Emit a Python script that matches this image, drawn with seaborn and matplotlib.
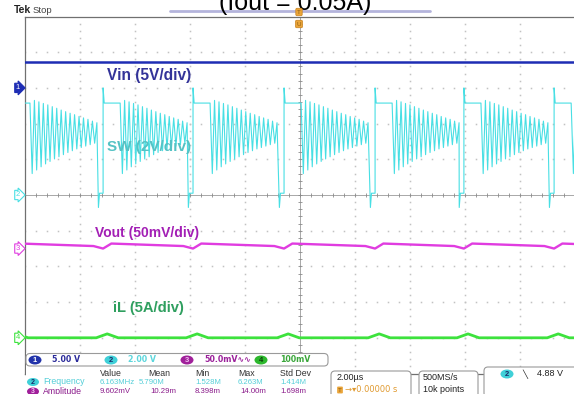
import numpy as np
import pandas as pd
import matplotlib.pyplot as plt
import matplotlib.transforms as mtransforms
from matplotlib.patches import FancyBboxPatch, Ellipse, Rectangle
import seaborn as sns

# channel setup: units per division and ground marker position (div)
canales = ["Vin", "SW", "Vout", "iL"]
escala = [5.0, 2.0, 0.05, 5.0]
tierra = [3.0, 0.0, -1.5, -4.0]
colores = ["#1e2db4", "#48dfe4", "#e03ce0", "#3de23d"]
etiquetas = ["Vin (5V/div)", "SW (2V/div)", "Vout (50mV/div)", "iL (5A/div)"]
color_etiq = ["#333399", "#55c2c4", "#a31fb5", "#2f9f5f"]
pos_etiq = [(-5.5, 3.36), (-5.5, 1.34), (-5.55, -1.06), (-5.5, -3.17)]  # (us, div)

# rising edges of the SW node (us)
rise_t = [-10.44, -7.16, -3.89, -0.58, 2.73, 5.96, 9.24, 12.5]

# Vin (V)
vin_level = 3.65

# SW node (V)
sw_low = 0.1
sw_spike = 6.0
sw_plateau = 5.15
sw_undershoot = -0.7
burst_start = 0.62  # us after the rising edge
ring_freq = 6.163   # MHz (measurement readout)
sw_peaks = [5.3, 5.22, 5.13, 5.05, 4.95, 4.86, 4.76, 4.67, 4.58, 4.5, 4.4, 4.32, 4.24, 4.14, 4.05]
sw_troughs = [1.2, 1.4, 1.58, 1.74, 1.88, 2.02, 2.14, 2.26, 2.38, 2.48, 2.58, 2.66, 2.74, 2.82, 2.9]

# Vout ripple (V): dip at the edge, jump up, slow decay
vout_dip, vout_high, vout_mid = 0.0, 0.007, 0.0035

# inductor current bump around each edge (A)
il_base = 0.0
il_bump_t = [-0.25, 0.15, 0.55]
il_bump_v = [0.0, 0.55, 0.0]

# measurement table
tabla_cols = ["Value", "Mean", "Min", "Max", "Std Dev"]
fila_freq = ["6.163MHz", "5.790M", "1.528M", "6.263M", "1.414M"]
fila_ampl = ["9.602mV", "10.29m", "8.398m", "14.00m", "1.698m"]

# ---- build traces
T = 1 / ring_freq
sw_t, sw_v = [], []
for t0, t1 in zip(rise_t[:-1], rise_t[1:]):
    sw_t += [t0, t0, t0 + 0.04, t0 + burst_start]
    sw_v += [sw_low, sw_spike, sw_plateau, sw_plateau]
    for k, (lo, hi) in enumerate(zip(sw_troughs, sw_peaks)):
        tb = t0 + burst_start + k * T
        sw_t += [tb + T / 2, tb + T]
        sw_v += [lo, hi]
    sw_t += [t1 - 0.17, t1 - 0.13, t1]
    sw_v += [sw_undershoot, sw_low, sw_low]

vo_t, vo_v = [], []
for t0, t1 in zip(rise_t[:-1], rise_t[1:]):
    vo_t += [t0, t0 + 0.3, t1 - 0.35]
    vo_v += [vout_dip, vout_high, vout_mid]
vo_t.append(rise_t[-1])
vo_v.append(vout_dip)

il_t, il_v = [rise_t[0] - 1], [il_base]
for t0 in rise_t:
    il_t += [t0 + s for s in il_bump_t]
    il_v += il_bump_v

vin_t, vin_v = [-10, 10], [vin_level, vin_level]

trazas = [(vin_t, vin_v), (sw_t, sw_v), (vo_t, vo_v), (il_t, il_v)]
anchos = [1.8, 0.8, 1.7, 2.0]

sns.set_style("white")
plt.rcParams["font.family"] = ["Liberation Sans", "DejaVu Sans"]

fig = plt.figure(figsize=(5.74, 3.94), dpi=100)
W, H = 574, 394
ax = fig.add_axes([25 / W, 1 - 373.5 / H, 550 / W, 357 / H])
ax.set_xlim(-10, 10)
ax.set_ylim(-5, 5)
ax.set_xticks([])
ax.set_yticks([])
for s in ax.spines.values():
    s.set_color("#707070")
    s.set_linewidth(0.9)

# graticule
for xd in [-4, -3, -2, -1, 1, 2, 3, 4]:
    yy = np.arange(-5, 5.01, 0.2)
    ax.plot(np.full_like(yy, 2 * xd), yy, ls="none", marker="s", ms=1.1, color="#c2c2c2", mec="none")
for yd in [-4, -3, -2, -1, 1, 2, 3, 4]:
    xx = np.arange(-10, 10.01, 0.4)
    ax.plot(xx, np.full_like(xx, yd), ls="none", marker="s", ms=1.1, color="#c2c2c2", mec="none")
ax.axhline(0, color="#9a9a9a", lw=0.6)
ax.axvline(0, color="#9a9a9a", lw=0.6)
ax.vlines(np.arange(-10, 10.01, 0.4), -0.07, 0.07, color="#8a8a8a", lw=0.6)
ax.hlines(np.arange(-5, 5.01, 0.2), -0.09, 0.09, color="#8a8a8a", lw=0.6)

for k, (tt, vv) in enumerate(trazas):
    df = pd.DataFrame({"t": tt, "div": np.array(vv) / escala[k] + tierra[k]})
    sns.lineplot(data=df, x="t", y="div", sort=False, estimator=None,
                 color=colores[k], lw=anchos[k], ax=ax, zorder=3)
ax.set_xlabel("")
ax.set_ylabel("")

for k in range(4):
    ax.text(pos_etiq[k][0], pos_etiq[k][1], etiquetas[k], color=color_etiq[k],
            fontsize=[11.2, 11.0, 10.0, 10.6][k], fontweight="bold",
            ha="center", va="center", zorder=5)

# ground markers on the left edge
bt = mtransforms.blended_transform_factory(fig.transFigure, ax.transData)
for k in range(4):
    filled = k == 0
    ax.text(18 / W, tierra[k], str(k + 1), transform=bt, fontsize=5.5,
            ha="center", va="center", color="white" if filled else colores[k],
            clip_on=False,
            bbox=dict(boxstyle="rarrow,pad=0.15", fc=colores[k] if filled else "white",
                      ec=colores[k], lw=0.8))

# ---- overlay in pixel coordinates
ov = fig.add_axes([0, 0, 1, 1])
ov.set_xlim(0, W)
ov.set_ylim(H, 0)
ov.set_axis_off()

# top bar
ov.plot([170, 430], [11, 11], color="#b4b4dc", lw=2)
ov.text(295, 10, "(Iout = 0.05A)", fontsize=18, ha="center", va="baseline", color="black")
ov.text(299, 12, "T", fontsize=4.5, color="#8a5a10", ha="center", va="center",
        bbox=dict(boxstyle="round,pad=0.2", fc="#eaa53a", ec="#c8801a", lw=0.5))
ov.text(299, 24, "U", fontsize=4.5, color="#8a5a10", ha="center", va="center",
        bbox=dict(boxstyle="round,pad=0.2", fc="#eaa53a", ec="#c8801a", lw=0.5))
ov.text(14, 13, "Tek", fontsize=7.5, fontweight="bold", color="#222222", va="baseline")
ov.text(33, 13, "Stop", fontsize=6.8, color="#444444", va="baseline")

# bottom readout panel
ov.add_patch(Rectangle((25.6, 352.5), 305, 45, fc="white", ec="none", zorder=1))
ov.add_patch(FancyBboxPatch((26, 353.5), 302, 12.5, boxstyle="round,pad=0,rounding_size=4",
                            fc="white", ec="#9a9a9a", lw=0.8, zorder=2))
chip = [("1", 35, "#2233aa", "white", "5.00 V", 52, "#2a2a9a"),
        ("2", 111, "#40d0d8", "#1a2a6a", "2.00 V", 128, "#5cd6dc"),
        ("3", 187, "#a0209a", "#f0c0f0", "50.0mV\u223f\u223f", 204, "#9a1f9a"),
        ("4", 261, "#2db82d", "#0a400a", "100mV", 280, "#3aa63a")]
for num, cx, fc, tc, lab, lx, lc in chip:
    ov.add_patch(Ellipse((cx, 360), 13, 9, fc=fc, ec="none", zorder=3))
    ov.text(cx, 360, num, fontsize=5.5, fontweight="bold", color=tc, ha="center", va="center", zorder=4)
    ov.text(lx, 360, lab, fontsize=5.7, fontweight="bold", color=lc, va="center", zorder=4,
            family=["DejaVu Sans"])

col_x = [100, 148, 195, 238, 280]
for x, c in zip(col_x, tabla_cols):
    ov.text(x, 373, c, fontsize=6.3, color="#333333", va="center", zorder=4)
for fila, y, fc, tc, nombre, mx in [(fila_freq, 382, "#40d0d8", "#1a2a6a", "Frequency", [100, 139, 195, 238, 280]),
                                   (fila_ampl, 391.5, "#a0209a", "#f0c0f0", "Amplitude", [100, 150, 195, 240, 280])]:
    col = "#55cfd8" if nombre == "Frequency" else "#8a1a8a"
    ov.add_patch(Ellipse((33, y), 12, 8, fc=fc, ec="none", zorder=3))
    ov.text(33, y, "2" if nombre == "Frequency" else "3", fontsize=5, fontweight="bold",
            color=tc, ha="center", va="center", zorder=4)
    ov.text(43, y, nombre, fontsize=6.3, color=col, va="center", zorder=4)
    for x, v in zip(mx, fila):
        ov.text(x, y, v, fontsize=5.6, color=col, va="center", zorder=4)

for x0, y0, w in [(331, 371, 80), (419, 371, 59), (484, 367, 95)]:
    ov.add_patch(FancyBboxPatch((x0, y0), w, 30, boxstyle="round,pad=0,rounding_size=4",
                                fc="white", ec="#9a9a9a", lw=0.8, zorder=2))
ov.text(337, 378, "2.00\u00b5s", fontsize=6.5, color="#222222", va="center", zorder=4)
ov.text(340, 390, "T", fontsize=4.5, color="#8a5a10", ha="center", va="center", zorder=4,
        bbox=dict(boxstyle="round,pad=0.15", fc="#eaa53a", ec="none"))
ov.text(345, 390, "\u2192\u25be0.00000 s", fontsize=6, color="#e09a30", va="center", zorder=4,
        family=["DejaVu Sans"])
ov.text(423, 378, "500MS/s", fontsize=6.5, color="#222222", va="center", zorder=4)
ov.text(423, 390, "10k points", fontsize=6.5, color="#222222", va="center", zorder=4)
ov.add_patch(Ellipse((507, 374), 13, 9, fc="#40d0d8", ec="none", zorder=3))
ov.text(507, 374, "2", fontsize=5.5, fontweight="bold", color="#1a2a6a", ha="center", va="center", zorder=4)
ov.text(525, 374, "\u2572", fontsize=6, color="#222222", ha="center", va="center", zorder=4,
        family=["DejaVu Sans"])
ov.text(537, 374, "4.88 V", fontsize=6.5, color="#222222", va="center", zorder=4)

fig.savefig("out.png", dpi=100)
